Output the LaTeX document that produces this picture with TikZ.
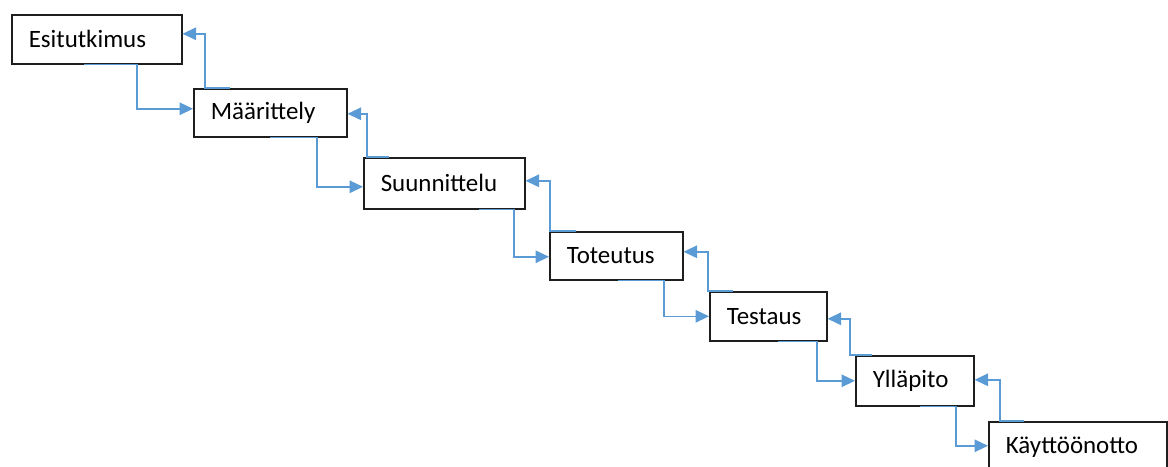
\documentclass[tikz,border=0pt]{standalone}
\usepackage{fontspec}
\setmainfont{Carlito}
\usepackage{xcolor}
\usetikzlibrary{arrows.meta,calc}
\definecolor{linkblue}{RGB}{91,155,213}
\definecolor{boxgray} {RGB}{30,30,30}

\begin{document}
\begin{tikzpicture}[
  x=0.02cm, y=-0.02cm,
  stage/.style={rectangle, draw=boxgray, line width=0.9pt, anchor=north west,
    inner xsep=0.34cm, inner ysep=0pt, align=left,
    font=\fontsize{14.2}{16}\selectfont},
  link/.style={-{Triangle[length=0.27cm, width=0.25cm]}, draw=linkblue,
    line width=0.85pt},
]
\useasboundingbox (0,0) rectangle (1168,466);
\clip (0,0) rectangle (1168,466);

% phases, stepping down to the right
\node[stage, text width=2.72cm, minimum height=0.98cm] (esi)  at (11,14)   {Esitutkimus};
\node[stage, text width=2.38cm, minimum height=0.96cm] (maar) at (193,88)  {Määrittely};
\node[stage, text width=2.54cm, minimum height=1.02cm] (suun) at (363,157) {Suunnittelu};
\node[stage, text width=1.98cm, minimum height=0.96cm] (tot)  at (549,231) {Toteutus};
\node[stage, text width=1.66cm, minimum height=0.98cm] (test) at (709,291) {Testaus};
\node[stage, text width=1.68cm, minimum height=1.00cm] (yll)  at (855,355) {Ylläpito};
\node[stage, text width=2.88cm, minimum height=1.00cm] (kay)  at (988,421) {Käyttöönotto};

% forward: bottom of one phase to the left side of the next
\draw[link] ($(esi.south west)+(73,0)$)   -- ($(esi.south west)+(126,0)$)  |- ($(maar.west)+(0,-4)$);
\draw[link] ($(maar.south west)+(77,0)$)  -- ($(maar.south west)+(124,0)$) |- ($(suun.west)+(0,3.5)$);
\draw[link] ($(suun.south west)+(116,0)$) -- ($(suun.south west)+(151,0)$) |- ($(tot.west)+(0,1)$);
\draw[link] ($(tot.south west)+(69,0)$)   -- ($(tot.south west)+(115,0)$)  |- (test.west);
\draw[link] ($(test.south west)+(69,0)$)  -- ($(test.south west)+(108,0)$) |- (yll.west);
\draw[link] ($(yll.south west)+(65,0)$)   -- ($(yll.south west)+(101,0)$)  |- ($(kay.west)+(0,-1)$);

% feedback: top of one phase back to the right side of the previous
\draw[link] ($(maar.north west)+(37,0)$) -- ($(maar.north west)+(12,0)$) |- ($(esi.east)+(0,-5.5)$);
\draw[link] ($(suun.north west)+(26,0)$) -- ($(suun.north west)+(4,0)$)  |- ($(maar.east)+(0,1)$);
\draw[link] ($(tot.north west)+(27,0)$)  -- ($(tot.north west)+(1,0)$)   |- ($(suun.east)+(0,-2.5)$);
\draw[link] ($(test.north west)+(24,0)$) -- ($(test.north west)+(-1,0)$) |- ($(tot.east)+(0,-4)$);
\draw[link] ($(yll.north west)+(17,0)$)  -- ($(yll.north west)+(-5,0)$)  |- ($(test.east)+(0,2.5)$);
\draw[link] ($(kay.north west)+(36,0)$)  -- ($(kay.north west)+(12,0)$)  |- ($(yll.east)+(0,-1)$);

\end{tikzpicture}
\end{document}
